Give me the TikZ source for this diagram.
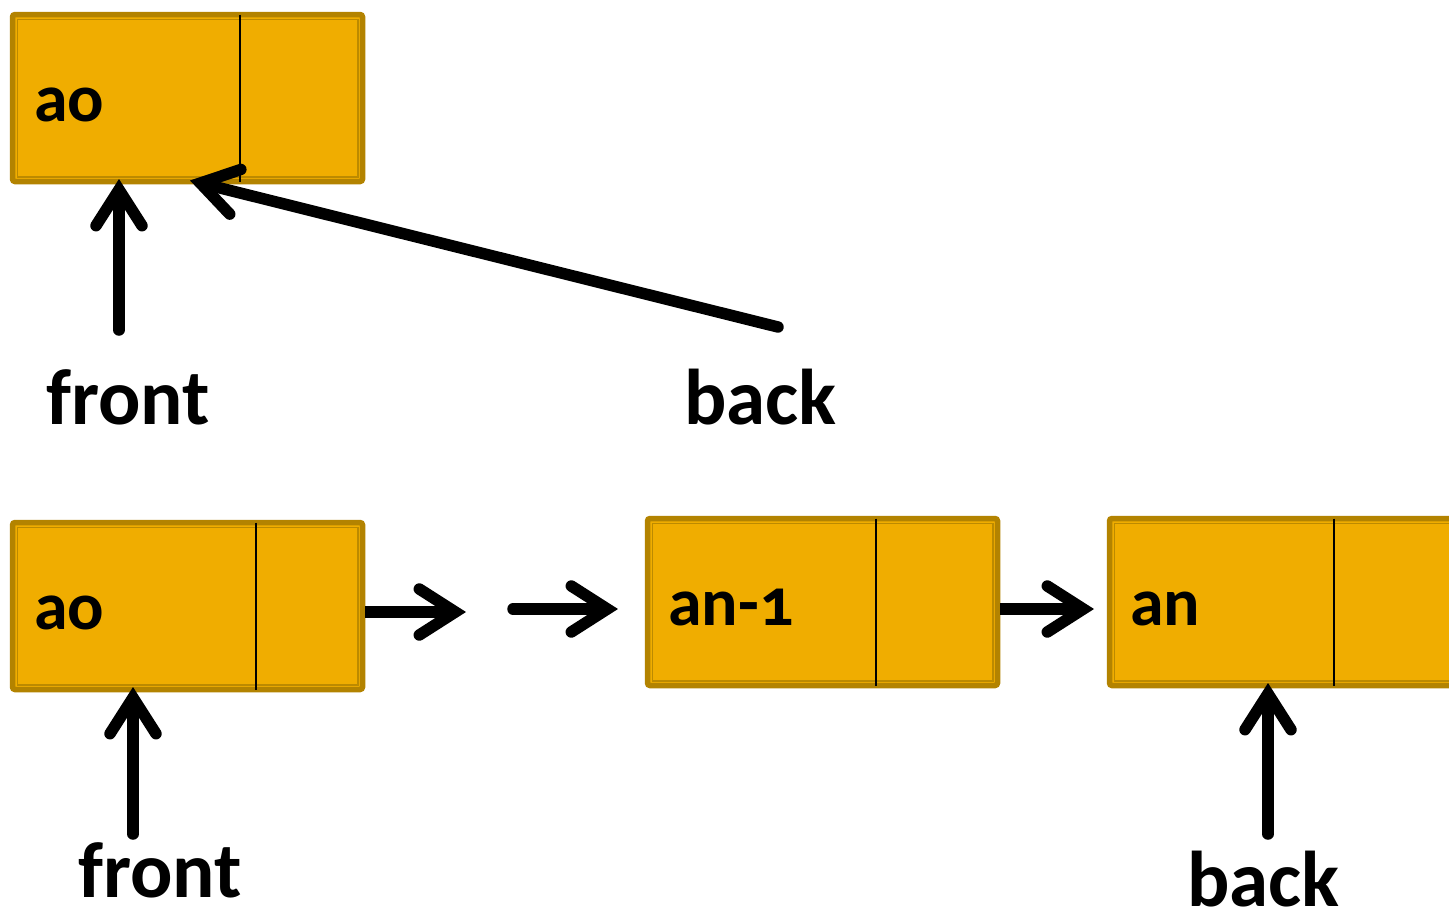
\documentclass[tikz,border=0pt]{standalone}
\usepackage{fontspec}
\setmainfont{Carlito}[Numbers=OldStyle]
\usetikzlibrary{arrows.meta}
\definecolor{boxfill}{HTML}{F0AD00}
\definecolor{boxedge}{HTML}{B38300}
\definecolor{boxinner}{HTML}{BC8A00}
\tikzset{
  cell/.style={draw=boxedge, fill=boxfill, line width=5.5pt, rounded corners=2.5pt,
    minimum width=350pt, minimum height=167pt, inner sep=0pt, outer sep=0pt},
  innerline/.style={draw=boxinner, line width=1.6pt},
  divline/.style={draw=black, line width=1.3pt},
  arr/.style={line width=11.5pt, line cap=round,
    -{Straight Barb[length=36pt, width=46pt, line cap=round, line join=miter]}},
  arrflat/.style={arr, line cap=butt},
  boxtext/.style={font=\fontsize{68pt}{72pt}\selectfont\bfseries, inner sep=0pt, anchor=base west},
  bigtext/.style={font=\fontsize{79pt}{82pt}\selectfont\bfseries, inner sep=0pt, anchor=base west},
}
\begin{document}
\begin{tikzpicture}[x=1pt, y=-1pt]
\clip (0,0) rectangle (1449,916);
\fill[white] (0,0) rectangle (1449,916);

% boxes
\node[cell] (b0) at (187.5,98) {};
\node[cell] (b1) at (187.5,606) {};
\node[cell] (b2) at (822.5,602) {};
\node[cell] (b3) at (1284.5,602) {};
\foreach \b in {b0,b1,b2,b3}{
  \draw[innerline] ([shift={(4.8,4.8)}]\b.north west) rectangle ([shift={(-4.8,-4.8)}]\b.south east);
}
\draw[divline] ([xshift=227.5pt]b0.north west) -- ([xshift=227.5pt]b0.south west);
\draw[divline] ([xshift=243.5pt]b1.north west) -- ([xshift=243.5pt]b1.south west);
\draw[divline] ([xshift=228.5pt]b2.north west) -- ([xshift=228.5pt]b2.south west);
\draw[divline] ([xshift=224.5pt]b3.north west) -- ([xshift=224.5pt]b3.south west);

% box texts
\node[boxtext] (t0) at (34,121) {ao};
\node[boxtext] (t1) at (34,629) {ao};
\node[boxtext] (t2) at (668,625) {an-1};
\node[boxtext] (t3) at (1130,625) {an};

% labels
\node[bigtext] (frontA) at (46,424) {front};
\node[bigtext] (backA) at (684,424) {back};
\node[bigtext] (frontB) at (78,897) {front};
\node[bigtext] (backB) at (1187,906) {back};

% coordinates
\coordinate (fA) at (119,330);
\coordinate (bA) at (778,327);
\coordinate (bAt) at (190,0);
\coordinate (fB) at (133,834);
\coordinate (bB) at (1268,834);
\coordinate (g1) at (466,612);
\coordinate (g2s) at (513,609);
\coordinate (g2e) at (618,609);
\coordinate (g3) at (1094,609);

% arrows
\draw[arr] (fA) -- ([yshift=2.5pt]b0.south -| fA);
\draw[arr] (bA) -- ([yshift=1pt]b0.south -| bAt);
\draw[arr] (fB) -- ([yshift=2.5pt]b1.south -| fB);
\draw[arr] (bB) -- ([yshift=2.5pt]b3.south -| bB);
\draw[arrflat] ([xshift=2.5pt]b1.east |- g1) -- (g1);
\draw[arr] (g2s) -- (g2e);
\draw[arrflat] ([xshift=2.5pt]b2.east |- g3) -- (g3);
\end{tikzpicture}
\end{document}
